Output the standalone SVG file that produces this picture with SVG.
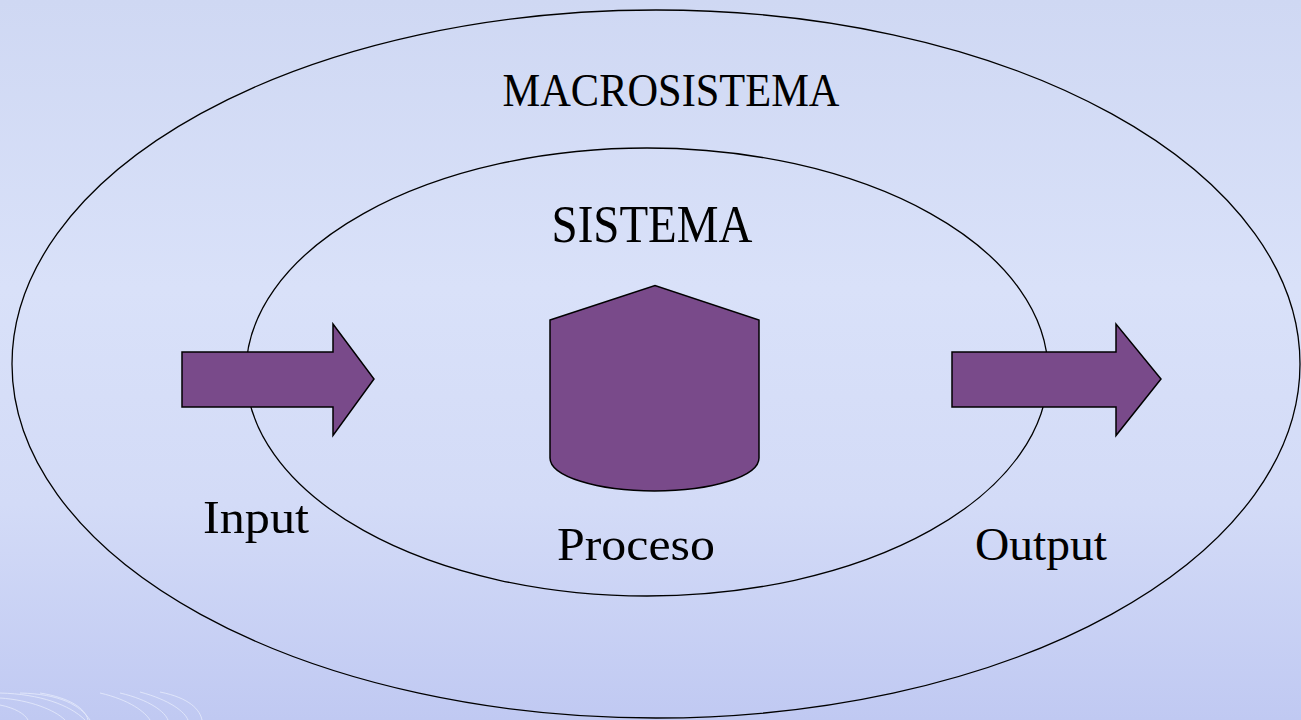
<svg xmlns="http://www.w3.org/2000/svg" width="1301" height="720" viewBox="0 0 1301 720">
<defs>
<linearGradient id="bg" x1="0" y1="0" x2="0" y2="1">
<stop offset="0" stop-color="#cfd8f3"/>
<stop offset="0.4" stop-color="#d9e1f9"/>
<stop offset="0.7" stop-color="#d3dbf7"/>
<stop offset="1" stop-color="#c0c9f2"/>
</linearGradient>
<style>
.ring{fill:none;stroke:#000;stroke-width:1.3}
.shape{fill:#794a8a;stroke:#000;stroke-width:1.5}
.lbl{font-family:"Liberation Serif","DejaVu Serif",serif;fill:#000}
.swirl{fill:none;stroke:#e6ebfb;stroke-width:1;opacity:0.8}
</style>
</defs>
<rect width="1301" height="720" fill="url(#bg)"/>
<g id="decor">
<path class="swirl" d="M0,693 C40,694 70,705 85,720"/>
<path class="swirl" d="M0,698 C30,700 55,710 65,720"/>
<path class="swirl" d="M20,693 C60,694 80,705 90,720"/>
<path class="swirl" d="M40,693 C70,698 85,708 88,720"/>
<path class="swirl" d="M100,693 C130,700 145,712 150,720"/>
<path class="swirl" d="M120,693 C150,700 165,712 168,720"/>
<path class="swirl" d="M140,692 C170,700 185,712 188,720"/>
<path class="swirl" d="M160,692 C190,698 200,710 202,720"/>
<path class="swirl" d="M0,705 C15,708 25,714 28,720"/>
</g>
<g id="macrosistema">
<ellipse class="ring" cx="656" cy="364" rx="644" ry="354"/>
<text class="lbl" x="671" y="106" font-size="46" text-anchor="middle" textLength="337" lengthAdjust="spacingAndGlyphs">MACROSISTEMA</text>
</g>
<g id="sistema">
<ellipse class="ring" cx="647" cy="372" rx="401" ry="224"/>
<text class="lbl" x="652" y="242" font-size="52" text-anchor="middle" textLength="201" lengthAdjust="spacingAndGlyphs">SISTEMA</text>
</g>
<g id="proceso">
<path class="shape" d="M550,320 L655,285.5 L759,320 L759,458 A104.5,33 0 0 1 550,458 Z"/>
<text class="lbl" x="557" y="560" font-size="47" textLength="158" lengthAdjust="spacingAndGlyphs">Proceso</text>
</g>
<g id="input">
<text class="lbl" x="203" y="533" font-size="47" textLength="106" lengthAdjust="spacingAndGlyphs">Input</text>
</g>
<g id="output">
<text class="lbl" x="975" y="560" font-size="47" textLength="132" lengthAdjust="spacingAndGlyphs">Output</text>
</g>
<g id="connectors">
<path class="shape" d="M182,352 L333,352 L333,324 L374,379 L333,435.5 L333,407 L182,407 Z"/>
<path class="shape" d="M952,352 L1116,352 L1116,324 L1161,379 L1116,435.5 L1116,407 L952,407 Z"/>
</g>
</svg>
